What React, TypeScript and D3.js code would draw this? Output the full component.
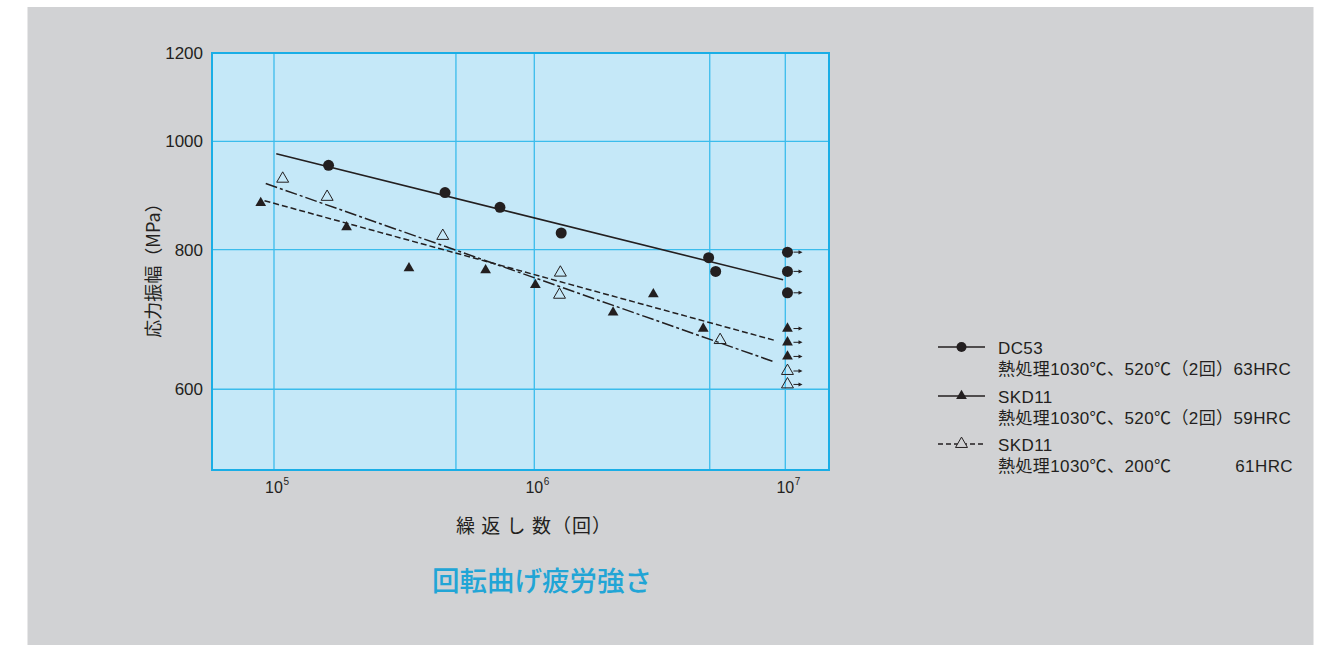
import React from "react";
import * as d3 from "d3";

// ---- data ----
const yTicks = [1200, 1000, 800, 600];
const yGrid = [1000, 800, 600];
const xGrid = [1e5, 5e5, 1e6, 5e6, 1e7];
const xTicks = [1e5, 1e6, 1e7];
const xTickExp = ["5", "6", "7"];

const dc53N = [1.62e5, 4.54e5, 7.38e5, 1.28e6, 4.95e6, 5.28e6];
const dc53S = [952, 900, 873, 828, 787, 765];
const dc53RunoutS = [796, 765, 732];
const dc53LineN = [1.02e5, 9.8e6];
const dc53LineS = [975, 752];

const skd520N = [8.9e4, 1.9e5, 3.3e5, 6.5e5, 1.01e6, 2.06e6, 2.98e6, 4.71e6];
const skd520S = [881, 838, 770, 767, 744, 703, 730, 680];
const skd520RunoutS = [680, 661, 642];
const skd520LineN = [9.2e4, 9.2e6];
const skd520LineS = [885, 663];

const skd200N = [1.08e5, 1.6e5, 4.45e5, 1.27e6, 1.26e6, 5.5e6];
const skd200S = [926, 892, 823, 763, 729, 664];
const skd200RunoutS = [623, 606];
const skd200LineN = [9.3e4, 9.0e6];
const skd200LineS = [917, 635];

const runoutN = 1.02e7;

const legendNames = ["DC53", "SKD11", "SKD11"];
const legendDesc = [
  "熱処理1030℃、520℃（2回）63HRC",
  "熱処理1030℃、520℃（2回）59HRC",
  "熱処理1030℃、200℃",
];
const legendHRC = ["", "", "61HRC"];

const yTitle = "応力振幅（MPa）";
const xTitle = "繰 返 し 数（回）";
const chartTitle = "回転曲げ疲労強さ";

// ---- styles ----
const FONT = "'Liberation Sans', Arial, 'Noto Sans CJK JP', sans-serif";
const CJK = "'Noto Sans CJK JP', 'Liberation Sans', sans-serif";
const INK = "#231f20";
const GRID = "#3bbcec";
const FRAME = "#1aaee6";
const PLOT_BG = "#c5e8f8";
const PAGE_BG = "#d1d2d4";

const plotLeft = 212;
const plotRight = 829;
const plotTop = 53;
const plotBottom = 470;

export default function App() {
  const x = d3
    .scaleLog()
    .domain([5.8e4, 1e5, 1e6, 1e7, 1.49e7])
    .range([plotLeft, 274, 534.3, 785.3, plotRight]);
  const y = d3.scaleLog().domain([508, 1200]).range([plotBottom, plotTop]);

  const line = d3
    .line<[number, number]>()
    .x((d) => x(d[0]))
    .y((d) => y(d[1]));

  const triFilled = d3.symbol(d3.symbolTriangle, 50)() as string;
  const triOpen = d3.symbol(d3.symbolTriangle, 62)() as string;

  const arrow = (cx: number, cy: number, key: string) => (
    <g key={key}>
      <line x1={cx + 6} y1={cy} x2={cx + 12} y2={cy} stroke={INK} strokeWidth={1} />
      <path d={`M${cx + 15},${cy} L${cx + 11},${cy - 2} L${cx + 11},${cy + 2} Z`} fill={INK} />
    </g>
  );

  const pair = (ns: number[], ss: number[]) => ns.map((n, i) => [n, ss[i]] as [number, number]);

  const legendX0 = 938;
  const legendX1 = 985;
  const legendRowY = [347, 396, 444];

  return (
    <svg
      width={1330}
      height={645}
      style={{ position: "absolute", left: 0, top: 0, background: "#fff" }}
    >
      <rect x={27.5} y={7} width={1286} height={640} fill={PAGE_BG} />

      {/* plot area */}
      <rect x={plotLeft} y={plotTop} width={plotRight - plotLeft} height={plotBottom - plotTop} fill={PLOT_BG} />
      {xGrid.map((v) => (
        <line key={"xg" + v} x1={x(v)} x2={x(v)} y1={plotTop} y2={plotBottom} stroke={GRID} strokeWidth={1.3} />
      ))}
      {yGrid.map((v) => (
        <line key={"yg" + v} x1={plotLeft} x2={plotRight} y1={y(v)} y2={y(v)} stroke={GRID} strokeWidth={1.3} />
      ))}
      <rect
        x={plotLeft}
        y={plotTop}
        width={plotRight - plotLeft}
        height={plotBottom - plotTop}
        fill="none"
        stroke={FRAME}
        strokeWidth={2}
      />

      {/* y tick labels */}
      {yTicks.map((v) => (
        <text key={"yt" + v} x={203} y={y(v) + 6} textAnchor="end" fontFamily={FONT} fontSize={17} fill={INK}>
          {v}
        </text>
      ))}
      {/* x tick labels */}
      {xTicks.map((v, i) => (
        <g key={"xt" + v}>
          <text x={x(v)} y={493} textAnchor="middle" fontFamily={FONT} fontSize={16} fill={INK}>
            10
          </text>
          <text x={x(v) + 9.5} y={485} fontFamily={FONT} fontSize={10} fill={INK}>
            {xTickExp[i]}
          </text>
        </g>
      ))}

      {/* fit lines */}
      <path d={line(pair(dc53LineN, dc53LineS)) as string} fill="none" stroke={INK} strokeWidth={1.6} />
      <path
        d={line(pair(skd520LineN, skd520LineS)) as string}
        fill="none"
        stroke={INK}
        strokeWidth={1.5}
        strokeDasharray="6,3"
      />
      <path
        d={line(pair(skd200LineN, skd200LineS)) as string}
        fill="none"
        stroke={INK}
        strokeWidth={1.5}
        strokeDasharray="12,3,3,3"
      />

      {/* DC53 points */}
      {pair(dc53N, dc53S).map((d, i) => (
        <circle key={"dc" + i} cx={x(d[0])} cy={y(d[1])} r={5.5} fill={INK} />
      ))}
      {dc53RunoutS.map((s, i) => (
        <g key={"dcr" + i}>
          <circle cx={x(runoutN)} cy={y(s)} r={5.5} fill={INK} />
          {arrow(x(runoutN), y(s), "a")}
        </g>
      ))}

      {/* SKD11 520 points */}
      {pair(skd520N, skd520S).map((d, i) => (
        <path key={"s5" + i} d={triFilled} transform={`translate(${x(d[0])},${y(d[1])})`} fill={INK} />
      ))}
      {skd520RunoutS.map((s, i) => (
        <g key={"s5r" + i}>
          <path d={triFilled} transform={`translate(${x(runoutN)},${y(s)})`} fill={INK} />
          {arrow(x(runoutN), y(s), "a")}
        </g>
      ))}

      {/* SKD11 200 points */}
      {pair(skd200N, skd200S).map((d, i) => (
        <path
          key={"s2" + i}
          d={triOpen}
          transform={`translate(${x(d[0])},${y(d[1])})`}
          fill="none"
          stroke={INK}
          strokeWidth={1}
        />
      ))}
      {skd200RunoutS.map((s, i) => (
        <g key={"s2r" + i}>
          <path d={triOpen} transform={`translate(${x(runoutN)},${y(s)})`} fill="none" stroke={INK} strokeWidth={1} />
          {arrow(x(runoutN), y(s), "a")}
        </g>
      ))}

      {/* axis titles */}
      <text
        transform={`translate(160,266) rotate(-90)`}
        textAnchor="middle"
        fontFamily={CJK}
        fontSize={18}
        fill={INK}
      >
        {yTitle}
      </text>
      <text x={534} y={533} textAnchor="middle" fontFamily={CJK} fontSize={19} letterSpacing={1} fill={INK}>
        {xTitle}
      </text>
      <text x={542} y={591} textAnchor="middle" fontFamily={CJK} fontSize={27.5} fontWeight={500} fill="#21a5d6">
        {chartTitle}
      </text>

      {/* legend */}
      {legendRowY.map((ly, i) => (
        <g key={"lg" + i}>
          <line
            x1={legendX0}
            x2={legendX1}
            y1={ly}
            y2={ly}
            stroke={INK}
            strokeWidth={1.4}
            strokeDasharray={i === 2 ? "5,3" : undefined}
          />
          {i === 0 && <circle cx={961.5} cy={ly} r={5} fill={INK} />}
          {i === 1 && <path d={triFilled} transform={`translate(961.5,${ly})`} fill={INK} />}
          {i === 2 && (
            <path d={triOpen} transform={`translate(961.5,${ly})`} fill={PAGE_BG} stroke={INK} strokeWidth={1} />
          )}
          <text x={998} y={ly + 7} fontFamily={FONT} fontSize={17} letterSpacing={0.4} fill={INK}>
            {legendNames[i]}
          </text>
          <text x={998} y={ly + 28} fontFamily={FONT} fontSize={17} letterSpacing={0.4} fill={INK}>
            {legendDesc[i]}
          </text>
          {legendHRC[i] && (
            <text x={1293} y={ly + 28} textAnchor="end" fontFamily={FONT} fontSize={17} letterSpacing={0.4} fill={INK}>
              {legendHRC[i]}
            </text>
          )}
        </g>
      ))}
    </svg>
  );
}
